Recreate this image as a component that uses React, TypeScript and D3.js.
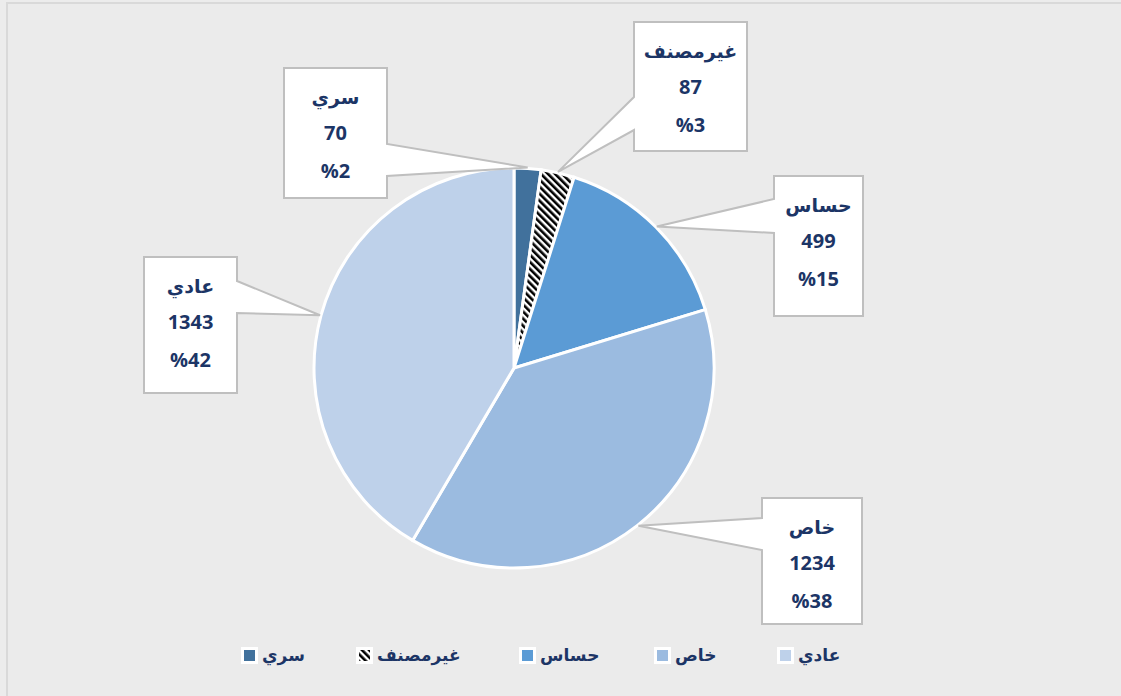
import React from "react";
import * as d3 from "d3";

const categories = ["سري", "غيرمصنف", "حساس", "خاص", "عادي"];
const values = [70, 87, 499, 1234, 1343];
const percentLabels = ["%2", "%3", "%15", "%38", "%42"];
const colors = ["#41719c", "url(#dnDiag)", "#5b9bd5", "#9bbbe0", "#bed1ea"];

// callout box geometry per category: [x, y, w, h, side, y1, y2]
const boxes: [number, number, number, number, string, number, number][] = [
  [284, 68, 103, 130, "right", 144, 176],
  [634, 22, 113, 129, "left", 97, 130],
  [774, 176, 89, 140, "left", 199, 233],
  [762, 498, 100, 126, "left", 518, 550],
  [144, 257, 93, 136, "right", 281, 313],
];

const W = 1121;
const H = 696;
const cx = 514;
const cy = 368;
const R = 200;
const textColor = "#1c3566";
const font = "'Open Sans', 'DejaVu Sans', sans-serif";

export default function App() {
  const pie = d3.pie<number>().sort(null).value((d) => d)(values);
  const arc = d3.arc<d3.PieArcDatum<number>>().innerRadius(0).outerRadius(R);
  const legendX = [243, 358, 521, 656, 779];

  return (
    <svg width={W} height={H} style={{ position: "absolute", left: 0, top: 0 }}>
      <defs>
        <pattern id="dnDiag" width="5" height="5" patternUnits="userSpaceOnUse" patternTransform="rotate(-45)">
          <rect width="5" height="5" fill="#ffffff" />
          <rect width="2.6" height="5" fill="#000000" />
        </pattern>
      </defs>
      <rect x={0} y={0} width={W} height={H} fill="#ececec" />
      <rect x={7} y={3} width={W + 20} height={H + 20} fill="#ebebeb" stroke="#d9d9d9" strokeWidth={2} />
      <g transform={`translate(${cx},${cy})`}>
        {pie.map((d, i) => (
          <path key={i} d={arc(d) || ""} fill={colors[i]} stroke="#ffffff" strokeWidth={3} />
        ))}
      </g>
      {pie.map((d, i) => {
        const [bx, by, bw, bh, side, y1, y2] = boxes[i];
        const mid = (d.startAngle + d.endAngle) / 2;
        const tipR = R + 1;
        const tx = cx + Math.sin(mid) * tipR;
        const ty = cy - Math.cos(mid) * tipR;
        const ex = side === "right" ? bx + bw : bx;
        const pts =
          side === "right"
            ? `${bx},${by} ${bx + bw},${by} ${ex},${y1} ${tx},${ty} ${ex},${y2} ${bx + bw},${by + bh} ${bx},${by + bh}`
            : `${bx},${by} ${bx + bw},${by} ${bx + bw},${by + bh} ${bx},${by + bh} ${ex},${y2} ${tx},${ty} ${ex},${y1}`;
        const mx = bx + bw / 2;
        return (
          <g key={i}>
            <polygon points={pts} fill="#ffffff" stroke="#bfbfbf" strokeWidth={2} strokeLinejoin="miter" />
            <text x={mx} y={by + 36} textAnchor="middle" fontFamily={font} fontWeight="bold" fontSize={19} fill={textColor} direction="rtl">
              {categories[i]}
            </text>
            <text x={mx} y={by + 72} textAnchor="middle" fontFamily={font} fontWeight="bold" fontSize={20} fill={textColor}>
              {values[i]}
            </text>
            <text x={mx} y={by + 110} textAnchor="middle" fontFamily={font} fontWeight="bold" fontSize={20} fill={textColor}>
              {percentLabels[i]}
            </text>
          </g>
        );
      })}
      {categories.map((c, i) => (
        <g key={c}>
          <rect x={legendX[i] - 2} y={647} width={17} height={17} fill="#ffffff" />
          <rect x={legendX[i] + 1} y={650} width={11} height={11} fill={colors[i]} />
          <text x={legendX[i] + 19} y={661} fontFamily={font} fontWeight="bold" fontSize={17} fill={textColor} textAnchor="start">
            {c}
          </text>
        </g>
      ))}
    </svg>
  );
}
